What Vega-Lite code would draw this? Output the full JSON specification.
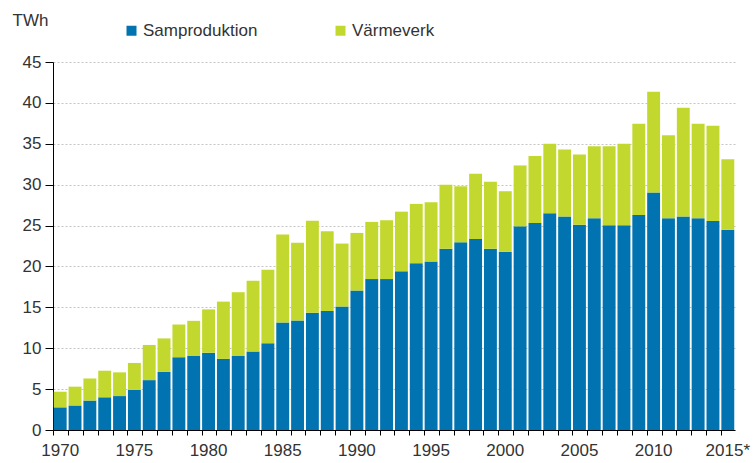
{
  "$schema": "https://vega.github.io/schema/vega-lite/v6.json",
  "width": 682,
  "height": 368,
  "autosize": {"type": "none"},
  "padding": {"left": 53, "top": 62, "right": 19, "bottom": 33},
  "background": "white",
  "config": {"view": {"stroke": null}, "font": "Liberation Sans"},
  "data": {"values": [
    {"year": "1970", "Samproduktion": 2.77, "Värmeverk": 1.91},
    {"year": "1971", "Samproduktion": 3.0, "Värmeverk": 2.3},
    {"year": "1972", "Samproduktion": 3.6, "Värmeverk": 2.7},
    {"year": "1973", "Samproduktion": 4.0, "Värmeverk": 3.25},
    {"year": "1974", "Samproduktion": 4.15, "Värmeverk": 2.9},
    {"year": "1975", "Samproduktion": 4.9, "Värmeverk": 3.3},
    {"year": "1976", "Samproduktion": 6.1, "Värmeverk": 4.3},
    {"year": "1977", "Samproduktion": 7.1, "Värmeverk": 4.1},
    {"year": "1978", "Samproduktion": 8.9, "Värmeverk": 4.0},
    {"year": "1979", "Samproduktion": 9.05, "Värmeverk": 4.3},
    {"year": "1980", "Samproduktion": 9.45, "Värmeverk": 5.3},
    {"year": "1981", "Samproduktion": 8.7, "Värmeverk": 7.0},
    {"year": "1982", "Samproduktion": 9.05, "Värmeverk": 7.8},
    {"year": "1983", "Samproduktion": 9.6, "Värmeverk": 8.65},
    {"year": "1984", "Samproduktion": 10.6, "Värmeverk": 9.0},
    {"year": "1985", "Samproduktion": 13.15, "Värmeverk": 10.75},
    {"year": "1986", "Samproduktion": 13.4, "Värmeverk": 9.5},
    {"year": "1987", "Samproduktion": 14.35, "Värmeverk": 11.25},
    {"year": "1988", "Samproduktion": 14.55, "Värmeverk": 9.75},
    {"year": "1989", "Samproduktion": 15.1, "Värmeverk": 7.7},
    {"year": "1990", "Samproduktion": 17.05, "Värmeverk": 7.05},
    {"year": "1991", "Samproduktion": 18.45, "Värmeverk": 7.0},
    {"year": "1992", "Samproduktion": 18.45, "Värmeverk": 7.2},
    {"year": "1993", "Samproduktion": 19.4, "Värmeverk": 7.3},
    {"year": "1994", "Samproduktion": 20.4, "Värmeverk": 7.25},
    {"year": "1995", "Samproduktion": 20.6, "Värmeverk": 7.25},
    {"year": "1996", "Samproduktion": 22.15, "Värmeverk": 7.85},
    {"year": "1997", "Samproduktion": 22.95, "Värmeverk": 6.85},
    {"year": "1998", "Samproduktion": 23.35, "Värmeverk": 8.0},
    {"year": "1999", "Samproduktion": 22.15, "Värmeverk": 8.2},
    {"year": "2000", "Samproduktion": 21.8, "Värmeverk": 7.4},
    {"year": "2001", "Samproduktion": 24.9, "Värmeverk": 7.45},
    {"year": "2002", "Samproduktion": 25.3, "Värmeverk": 8.2},
    {"year": "2003", "Samproduktion": 26.5, "Värmeverk": 8.5},
    {"year": "2004", "Samproduktion": 26.1, "Värmeverk": 8.2},
    {"year": "2005", "Samproduktion": 25.1, "Värmeverk": 8.6},
    {"year": "2006", "Samproduktion": 25.9, "Värmeverk": 8.8},
    {"year": "2007", "Samproduktion": 25.05, "Värmeverk": 9.65},
    {"year": "2008", "Samproduktion": 25.05, "Värmeverk": 9.95},
    {"year": "2009", "Samproduktion": 26.3, "Värmeverk": 11.15},
    {"year": "2010", "Samproduktion": 29.05, "Värmeverk": 12.3},
    {"year": "2011", "Samproduktion": 25.9, "Värmeverk": 10.15},
    {"year": "2012", "Samproduktion": 26.1, "Värmeverk": 13.3},
    {"year": "2013", "Samproduktion": 25.9, "Värmeverk": 11.55},
    {"year": "2014", "Samproduktion": 25.55, "Värmeverk": 11.65},
    {"year": "2015*", "Samproduktion": 24.5, "Värmeverk": 8.6}
  ]},
  "transform": [{"fold": ["Samproduktion", "Värmeverk"], "as": ["type", "value"]}],
  "mark": {"type": "bar"},
  "encoding": {
    "x": {
      "field": "year", "type": "ordinal",
      "scale": {"paddingInner": 0.13, "paddingOuter": 0.05},
      "axis": {
        "title": null, "bandPosition": 0, "labelOffset": 0, "labelAngle": 0,
        "labelExpr": "toNumber(slice(datum.value,0,4)) % 5 == 0 ? datum.value : ''",
        "labelOverlap": false, "labelFontSize": 17, "labelColor": "#333333",
        "labelPadding": 7, "tickSize": 5, "tickColor": "#000000", "domainColor": "#000000",
        "grid": false
      }
    },
    "y": {
      "field": "value", "type": "quantitative", "stack": "zero",
      "scale": {"domain": [0, 45], "nice": false},
      "axis": {
        "values": [0, 5, 10, 15, 20, 25, 30, 35, 40, 45],
        "title": "TWh", "titleAngle": 0, "titleX": -41, "titleY": -42,
        "titleAlign": "left", "titleBaseline": "middle", "titleFontWeight": "normal",
        "titleFontSize": 17, "titleColor": "#333333",
        "labelFontSize": 17, "labelColor": "#333333", "labelPadding": 4,
        "tickSize": 8, "tickColor": "#000000", "domainColor": "#000000",
        "grid": true, "gridDash": [2, 2], "gridColor": "#c4c4c4"
      }
    },
    "color": {
      "field": "type", "type": "nominal",
      "scale": {"domain": ["Samproduktion", "Värmeverk"], "range": ["#0073b0", "#c3d82e"]},
      "legend": {
        "title": null, "orient": "none", "direction": "horizontal",
        "legendX": 70, "legendY": -40, "padding": 0,
        "symbolType": "square", "symbolSize": 100, "symbolStrokeWidth": 0,
        "labelFontSize": 17, "labelColor": "#333333", "labelOffset": 3,
        "columnPadding": 74
      }
    },
    "order": {"field": "type", "sort": "ascending"}
  }
}
